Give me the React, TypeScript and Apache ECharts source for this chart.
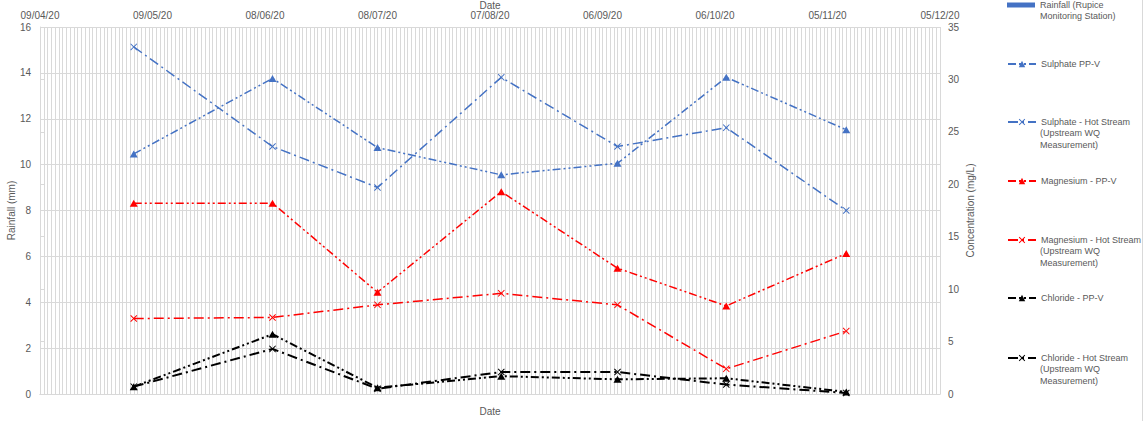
import React, { useEffect, useRef } from 'react';
import * as echarts from 'echarts';

// ---- data ----
const START_DATE = '2020-04-09';
const END_DATE = '2020-12-05';
const sampleDates = ['2020-05-04', '2020-06-10', '2020-07-08', '2020-08-10', '2020-09-10', '2020-10-09', '2020-11-10'];
const rainfallDates: string[] = [];
const rainfallValues: number[] = [];
const sulphatePPV = [22.9, 30.1, 23.5, 20.9, 22.0, 30.2, 25.2];
const sulphateHot = [33.1, 23.6, 19.7, 30.2, 23.6, 25.4, 17.5];
const magnesiumPPV = [18.2, 18.2, 9.7, 19.3, 12.0, 8.4, 13.4];
const magnesiumHot = [7.2, 7.3, 8.5, 9.6, 8.5, 2.4, 6.0];
const chloridePPV = [0.7, 5.7, 0.6, 1.7, 1.4, 1.5, 0.2];
const chlorideHot = [0.7, 4.3, 0.5, 2.1, 2.1, 0.9, 0.1];
const rainfallAxis = { min: 0, max: 16, interval: 2 };
const concAxis = { min: 0, max: 35, interval: 5 };
const dateTickDays = 30;

const legendLines: string[][] = [
  ['Rainfall (Rupice', 'Monitoring Station)'],
  ['Sulphate PP-V'],
  ['Sulphate - Hot Stream', '(Upstream WQ', 'Measurement)'],
  ['Magnesium - PP-V'],
  ['Magnesium - Hot Stream', '(Upstream WQ', 'Measurement)'],
  ['Chloride - PP-V'],
  ['Chloride - Hot Stream', '(Upstream WQ', 'Measurement)'],
];

const DAY = 86400000;
const dayOf = (s: string) => (Date.parse(s) - Date.parse(START_DATE)) / DAY;
const fmtDate = (d: number) => {
  const t = new Date(Date.parse(START_DATE) + d * DAY);
  const dd = String(t.getUTCDate()).padStart(2, '0');
  const mm = String(t.getUTCMonth() + 1).padStart(2, '0');
  const yy = String(t.getUTCFullYear()).slice(2);
  return `${dd}/${mm}/${yy}`;
};

const FONT = "'Liberation Sans', Arial, sans-serif";
const TXT = '#595959';
const GRID = '#d9d9d9';
const BLUE = '#4472C4';
const RED = '#FF0000';
const BLACK = '#000000';
const CROSS = 'path://M0,1 L1,0 L5,4 L9,0 L10,1 L6,5 L10,9 L9,10 L5,6 L1,10 L0,9 L4,5 Z';
const DASH_DOT = [10, 4, 2, 4];
const DASH_DOT_DOT = [8, 3, 2, 3, 2, 3];

export default function App() {
  const ref = useRef<HTMLDivElement>(null);
  useEffect(() => {
    if (!ref.current) return;
    const chart = echarts.init(ref.current, undefined, { renderer: 'svg' });
    const names = legendLines.map((l) => l.join(' '));
    const pts = (vals: number[]) => sampleDates.map((d, i) => [dayOf(d), vals[i]]);
    const lineSeries = (name: string, vals: number[], color: string, tri: boolean, width: number) => ({
      name,
      type: 'line',
      xAxisIndex: 1,
      yAxisIndex: 1,
      data: pts(vals),
      symbol: tri ? 'triangle' : CROSS,
      symbolSize: tri ? [8, 7] : 7,
      showSymbol: true,
      itemStyle: { color },
      lineStyle: { color, width, type: tri ? DASH_DOT_DOT : DASH_DOT },
    });
    const legendY = [5, 64, 122, 181, 240, 298, 358];
    const legends = names.map((n, i) => ({
      show: true,
      left: 1007,
      top: legendY[i] - 6,
      padding: 0,
      orient: 'vertical',
      selectedMode: false,
      itemWidth: 28,
      itemHeight: i === 0 ? 5 : 8,
      icon: i === 0 ? 'rect' : undefined,
      data: [n],
      formatter: () => legendLines[i][0],
      textStyle: { color: TXT, fontSize: 9, fontFamily: FONT, lineHeight: 12 },
    }));
    const graphicTexts: any[] = [];
    legendLines.forEach((lines, i) => {
      lines.slice(1).forEach((t, k) => {
        graphicTexts.push({
          type: 'text',
          left: 1040,
          top: legendY[i] + 12 * (k + 1) - 6,
          style: { text: t, fill: TXT, fontSize: 9, fontFamily: FONT },
        });
      });
    });
    graphicTexts.push({
      type: 'line',
      shape: { x1: 1142.5, y1: 0, x2: 1142.5, y2: 421 },
      style: { stroke: GRID, lineWidth: 1 },
    });
    const xCommon = { type: 'value', min: 0, max: dayOf(END_DATE), interval: dateTickDays };
    chart.setOption({
      animation: false,
      textStyle: { fontFamily: FONT },
      grid: { left: 40, right: 206, top: 27, bottom: 27, containLabel: false, outerBoundsMode: 'none' },
      legend: legends,
      graphic: graphicTexts,
      xAxis: [
        {
          ...xCommon,
          position: 'top',
          name: 'Date',
          nameLocation: 'middle',
          nameGap: 17,
          nameMoveOverlap: false,
          nameTextStyle: { color: TXT, fontSize: 10, fontFamily: FONT },
          axisLine: { show: true, lineStyle: { color: GRID } },
          axisTick: { show: true, length: 4, lineStyle: { color: GRID } },
          axisLabel: { color: TXT, fontSize: 10, fontFamily: FONT, margin: 7, formatter: (v: number) => fmtDate(v), showMinLabel: true, showMaxLabel: true },
          splitLine: { show: true, lineStyle: { color: GRID, width: 1 } },
          minorTick: { show: false, splitNumber: dateTickDays },
          minorSplitLine: { show: true, lineStyle: { color: GRID, width: 1 } },
        },
        {
          ...xCommon,
          position: 'bottom',
          name: 'Date',
          nameLocation: 'middle',
          nameGap: 12,
          nameTextStyle: { color: TXT, fontSize: 10, fontFamily: FONT },
          axisLine: { show: true, lineStyle: { color: GRID } },
          axisTick: { show: false },
          axisLabel: { show: false },
          splitLine: { show: false },
        },
      ],
      yAxis: [
        {
          type: 'value',
          position: 'left',
          ...rainfallAxis,
          name: 'Rainfall (mm)',
          nameLocation: 'middle',
          nameGap: 24,
          nameMoveOverlap: false,
          nameTextStyle: { color: TXT, fontSize: 10, fontFamily: FONT },
          axisLine: { show: false },
          axisTick: { show: false },
          axisLabel: { color: TXT, fontSize: 10, fontFamily: FONT, margin: 9 },
          splitLine: { show: true, lineStyle: { color: GRID, width: 1 } },
        },
        {
          type: 'value',
          position: 'right',
          ...concAxis,
          name: 'Concentration (mg/L)',
          nameLocation: 'middle',
          nameGap: 25,
          nameMoveOverlap: false,
          nameTextStyle: { color: TXT, fontSize: 10, fontFamily: FONT },
          axisLine: { show: true, lineStyle: { color: GRID } },
          axisTick: { show: true, length: 4, lineStyle: { color: GRID } },
          axisLabel: { color: TXT, fontSize: 10, fontFamily: FONT, margin: 8 },
          splitLine: { show: false },
        },
      ],
      series: [
        {
          name: names[0],
          type: 'bar',
          xAxisIndex: 0,
          yAxisIndex: 0,
          itemStyle: { color: BLUE },
          data: rainfallDates.map((d, i) => [dayOf(d), rainfallValues[i]]),
        },
        lineSeries(names[1], sulphatePPV, BLUE, true, 1.5),
        lineSeries(names[2], sulphateHot, BLUE, false, 1.5),
        lineSeries(names[3], magnesiumPPV, RED, true, 1.5),
        lineSeries(names[4], magnesiumHot, RED, false, 1.5),
        lineSeries(names[5], chloridePPV, BLACK, true, 2),
        lineSeries(names[6], chlorideHot, BLACK, false, 2),
      ],
    });
    return () => chart.dispose();
  }, []);
  return <div ref={ref} style={{ position: 'fixed', left: 0, top: 0, width: 1146, height: 421, background: '#fff' }} />;
}
